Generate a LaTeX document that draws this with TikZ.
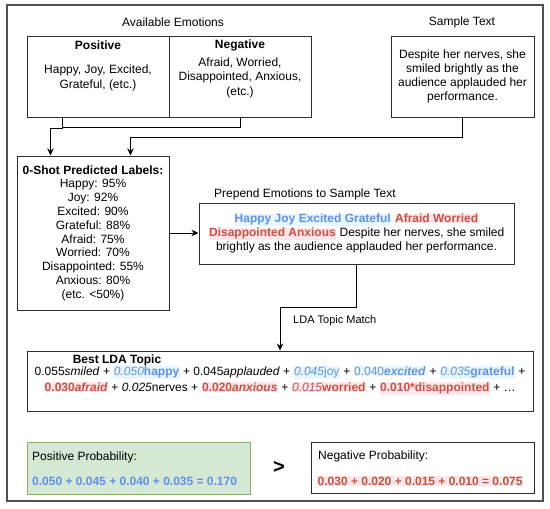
\documentclass[tikz,border=0pt]{standalone}
\usepackage{fontspec}
\setmainfont{Liberation Sans}
\usetikzlibrary{arrows.meta,calc}
\definecolor{linec}{RGB}{45,45,45}
\definecolor{framec}{RGB}{80,80,80}
\definecolor{eblue}{RGB}{95,145,236}
\definecolor{ered}{RGB}{208,78,60}
\definecolor{sred}{RGB}{192,86,56}
\definecolor{hlblue}{RGB}{232,246,255}
\definecolor{hlred}{RGB}{255,230,236}
\definecolor{gfill}{RGB}{213,232,212}
\definecolor{gdraw}{RGB}{130,179,102}
\newcommand\myhlb[1]{{\setlength{\fboxsep}{0.5pt}\colorbox{hlblue}{#1}}}
\newcommand\myhlr[1]{{\setlength{\fboxsep}{0.5pt}\colorbox{hlred}{#1}}}
\begin{document}
\begin{tikzpicture}[x=1pt,y=-1pt,
  box/.style={draw=linec,line width=1pt,inner sep=0pt},
  txt/.style={inner sep=0pt,align=center,font=\fontsize{12}{14}\selectfont},
  txtb/.style={inner sep=0pt,align=center,font=\bfseries\fontsize{12}{14}\selectfont},
  arr/.style={draw=black,line width=1pt,-{Stealth[length=7pt,width=6.5pt]}},
  conn/.style={draw=black,line width=1pt}]
\useasboundingbox (0,0) rectangle (550,509);
\node[draw=framec,line width=1.3pt,minimum width=536pt,minimum height=496pt,inner sep=0pt] (frame) at (275,253) {};

\node[txt] (avail) at (173,22) {Available Emotions};
\node[txt] (samplelbl) at (462,22) {Sample Text};

\node[box,minimum width=142pt,minimum height=81pt] (pos) at (98,76.5) {};
\node[box,minimum width=142pt,minimum height=81pt] (neg) at (240,76.5) {};
\node[txtb] (postitle) at (98,45) {Positive};
\node[txt,font=\fontsize{12}{14.3}\selectfont] (postext) at (98,78) {Happy, Joy, Excited,\\Grateful, (etc.)};
\node[txtb] (negtitle) at (240,45) {Negative};
\node[txt,font=\fontsize{12}{14.6}\selectfont] (negtext) at (240,77.5) {Afraid, Worried,\\Disappointed, Anxious,\\(etc.)};

\node[box,txt,minimum width=143pt,minimum height=81pt] (sample) at (462.5,76.5)
  {Despite her nerves, she\\smiled brightly as the\\audience applauded her\\performance.};

\node[box,txt,font=\fontsize{12}{13.8}\selectfont,minimum width=152pt,minimum height=154pt] (pred) at (93,233)
  {\textbf{0-Shot Predicted Labels:}\\Happy: 95\%\\Joy: 92\%\\Excited: 90\%\\Grateful: 88\%\\Afraid: 75\%\\Worried: 70\%\\Disappointed: 55\%\\Anxious: 80\%\\(etc. <50\%)};

\node[txt,anchor=west] (preplbl) at (214,194) {Prepend Emotions to Sample Text};
\node[box,txt,minimum width=315pt,minimum height=61pt] (prep) at (356.5,233.5)
  {\myhlb{\textbf{\color{eblue}Happy Joy Excited Grateful}} \myhlr{\textbf{\color{ered}Afraid Worried}}\\
   \myhlr{\textbf{\color{ered}Disappointed Anxious}} Despite her nerves, she smiled\\
   brightly as the audience applauded her performance.};

\node[txt,anchor=west,font=\fontsize{11}{13}\selectfont] (ldalbl) at (293,321) {LDA Topic Match};
\node[box,minimum width=506pt,minimum height=60pt] (lda) at (280,381) {};
\node[txtb] (ldatitle) at (117,360) {Best LDA Topic};
\node[txt,font=\fontsize{12}{16}\selectfont] (ldatext) at (280,380.5)
  {0.055\textit{smiled} + \myhlb{\color{eblue}\textit{0.050}\textbf{happy}} + 0.045\textit{applauded} + \myhlb{\color{eblue}\textit{0.045}joy} + \myhlb{\color{eblue}0.040\textbf{\textit{excited}}} + \myhlb{\color{eblue}\textit{0.035}\textbf{grateful}} +\\
   \myhlr{\color{ered}\textbf{0.030\textit{afraid}}} + \textit{0.025}nerves + \myhlr{\color{ered}\textbf{0.020\textit{anxious}}} + \myhlr{\color{ered}\textit{0.015}\textbf{worried}} + \myhlr{\color{ered}\textbf{0.010*disappointed}} + …};

\node[draw=gdraw,fill=gfill,line width=1pt,inner sep=0pt,minimum width=223pt,minimum height=52pt] (pp) at (138.5,468) {};
\node[txt,anchor=west] (pptitle) at (32,457) {Positive Probability:};
\node[txtb,anchor=west,text=eblue] (ppsum) at (32,481) {0.050 + 0.045 + 0.040 + 0.035 = 0.170};
\node[box,minimum width=223pt,minimum height=51pt] (np) at (422.5,467.5) {};
\node[txt,anchor=west] (nptitle) at (318,456) {Negative Probability:};
\node[txtb,anchor=west] (npsum) at (317,481) {\myhlr{\color{sred}0.030 + 0.020 + 0.015 + 0.010 = 0.075}};
\node[inner sep=0pt,font=\bfseries\fontsize{20}{20}\selectfont] (gt) at (279,467) {>};

% connectors
\draw[conn] ([xshift=36pt]pos.south west) -- ++(0,10) -| (neg.south);
\draw[arr] ([xshift=36pt,yshift=-10.5pt]pos.south west) -| ([xshift=34pt]pred.north west);
\draw[arr] (sample.south) -- ++(0,20) -| ([xshift=114pt]pred.north west);
\draw[arr] (pred.east) -- (pred.east -| prep.west);
\draw[arr] (prep.south) -- ++(0,43) -| (lda.north);
\end{tikzpicture}
\end{document}
